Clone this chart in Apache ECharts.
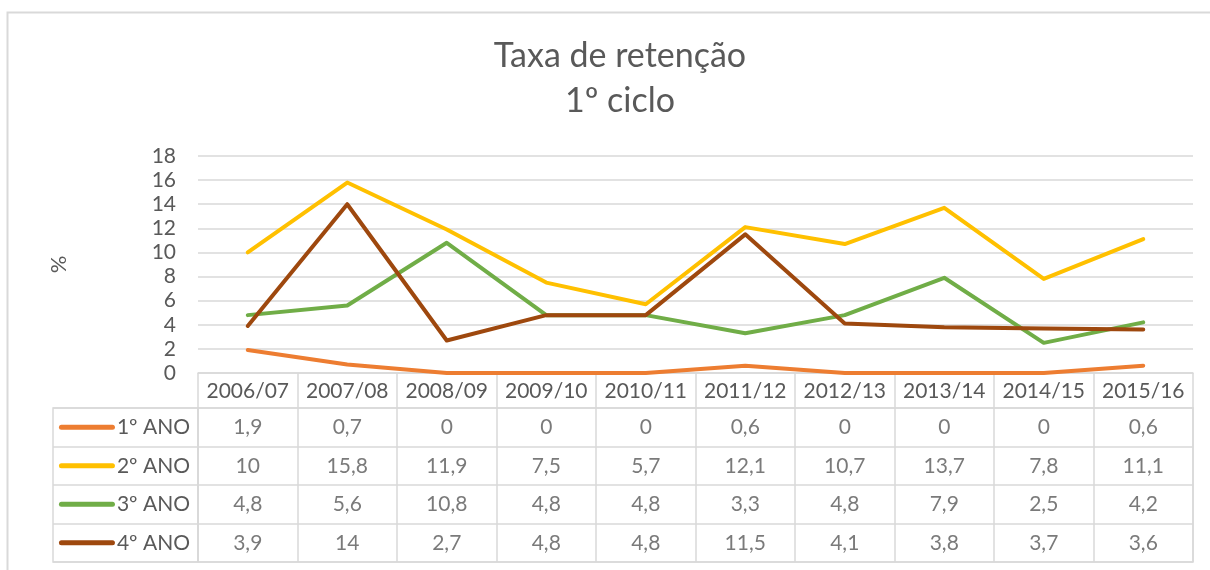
<!DOCTYPE html>
<html>
<head>
<meta charset="utf-8">
<script src="https://cdn.jsdelivr.net/npm/echarts@6/dist/echarts.min.js"></script>
<style>
  html, body { margin: 0; padding: 0; background: #fff; }
  #chart { width: 1210px; height: 570px; }
</style>
</head>
<body>
<div id="chart"></div>
<script>
// School years shown on the category axis and in the table header
const years = ['2006/07', '2007/08', '2008/09', '2009/10', '2010/11',
               '2011/12', '2012/13', '2013/14', '2014/15', '2015/16'];

// Retention rate (%) per school grade
const ano1 = [1.9, 0.7, 0, 0, 0, 0.6, 0, 0, 0, 0.6];
const ano2 = [10, 15.8, 11.9, 7.5, 5.7, 12.1, 10.7, 13.7, 7.8, 11.1];
const ano3 = [4.8, 5.6, 10.8, 4.8, 4.8, 3.3, 4.8, 7.9, 2.5, 4.2];
const ano4 = [3.9, 14, 2.7, 4.8, 4.8, 11.5, 4.1, 3.8, 3.7, 3.6];

const seriesNames = ['1º ANO', '2º ANO', '3º ANO', '4º ANO'];
const yTicks = [0, 2, 4, 6, 8, 10, 12, 14, 16, 18];

const seriesData = [ano1, ano2, ano3, ano4];
const colors = ['#ED7D31', '#FFC000', '#70AD47', '#9E480E'];

const FONT = 'Lato';
const FS = 21;
const TEXT = '#595959';
const GRID = '#d9d9d9';

const fmt = v => String(v).replace('.', ',');

const chart = echarts.init(document.getElementById('chart'), null, { renderer: 'canvas' });

// line series on the plot grid
const lineSeries = seriesData.map((d, i) => ({
  name: seriesNames[i],
  type: 'line',
  xAxisIndex: 0,
  yAxisIndex: 0,
  data: d,
  symbol: 'none',
  lineStyle: { color: colors[i], width: 4, cap: 'round', join: 'round' },
  itemStyle: { color: colors[i] },
  z: 3 + i
}));

// data table cells: one text per (year, grade)
const cellSeries = seriesData.map((d, i) => ({
  type: 'scatter',
  xAxisIndex: 1,
  yAxisIndex: 1,
  symbolSize: 0,
  silent: true,
  data: d.map((v, j) => [j, i, v]),
  label: {
    show: true,
    position: 'inside',
    formatter: p => fmt(p.value[2]),
    color: TEXT,
    fontFamily: FONT,
    fontSize: FS
  }
}));

const legendRich = {};
colors.forEach((c, i) => {
  legendRich['m' + i] = { width: 56, height: 5, backgroundColor: c, borderRadius: 3 };
});
legendRich.t = { color: TEXT, fontFamily: FONT, fontSize: FS, padding: [0, 0, 0, 2] };

chart.setOption({
  animation: false,
  title: {
    text: 'Taxa de retenção\n1º ciclo',
    left: 615,
    top: 29,
    textAlign: 'center',
    textStyle: {
      color: TEXT,
      fontFamily: FONT,
      fontSize: 34,
      fontWeight: 'normal',
      lineHeight: 45
    }
  },
  graphic: [
    {
      type: 'rect',
      shape: { x: 7.5, y: 12.5, width: 1260, height: 600 },
      style: { fill: 'none', stroke: GRID, lineWidth: 2 },
      silent: true,
      z: -10
    }
  ],
  grid: [
    { left: 198, right: 17, top: 156, height: 217 },
    { left: 198, right: 17, top: 408, height: 154, show: true, borderColor: GRID, borderWidth: 1.5 },
    { left: 53, width: 145, top: 408, height: 154, show: true, borderColor: GRID, borderWidth: 1.5 }
  ],
  xAxis: [
    {
      gridIndex: 0,
      type: 'category',
      data: years,
      boundaryGap: true,
      axisLine: { show: true, lineStyle: { color: GRID, width: 1.5 } },
      axisTick: { show: true, interval: 0, length: 35, lineStyle: { color: GRID, width: 1.5 } },
      axisLabel: { interval: 0, color: TEXT, fontFamily: FONT, fontSize: FS, margin: 8 }
    },
    {
      gridIndex: 1,
      type: 'category',
      data: years,
      boundaryGap: true,
      axisLine: { show: false },
      axisTick: { show: false },
      axisLabel: { show: false },
      splitLine: { show: true, interval: 0, lineStyle: { color: GRID, width: 1.5 } }
    },
    {
      gridIndex: 2,
      type: 'category',
      data: [''],
      axisLine: { show: false },
      axisTick: { show: false },
      axisLabel: { show: false }
    }
  ],
  yAxis: [
    {
      gridIndex: 0,
      type: 'value',
      min: 0,
      max: 18,
      interval: 2,
      name: '%',
      nameLocation: 'middle',
      nameGap: 128,
      nameRotate: 90,
      nameTextStyle: { color: TEXT, fontFamily: FONT, fontSize: 22 },
      axisLine: { show: false },
      axisTick: { show: false },
      axisLabel: {
        color: TEXT, fontFamily: FONT, fontSize: FS, margin: 22,
        formatter: v => (yTicks.includes(v) ? String(v) : '')
      },
      splitLine: { show: true, lineStyle: { color: GRID, width: 1.5 } }
    },
    {
      gridIndex: 1,
      type: 'category',
      data: seriesNames,
      inverse: true,
      boundaryGap: true,
      axisLine: { show: false },
      axisTick: { show: false },
      axisLabel: { show: false },
      splitLine: { show: true, interval: 0, lineStyle: { color: GRID, width: 1.5 } }
    },
    {
      gridIndex: 2,
      type: 'category',
      data: seriesNames,
      inverse: true,
      position: 'right',
      boundaryGap: true,
      axisLine: { show: false },
      axisTick: { show: false },
      splitLine: { show: true, interval: 0, lineStyle: { color: GRID, width: 1.5 } },
      axisLabel: {
        inside: true,
        interval: 0,
        margin: 8,
        formatter: (v, i) => '{m' + i + '|}{t|' + v + '}',
        rich: legendRich
      }
    }
  ],
  series: [...lineSeries, ...cellSeries]
});
</script>
</body>
</html>
